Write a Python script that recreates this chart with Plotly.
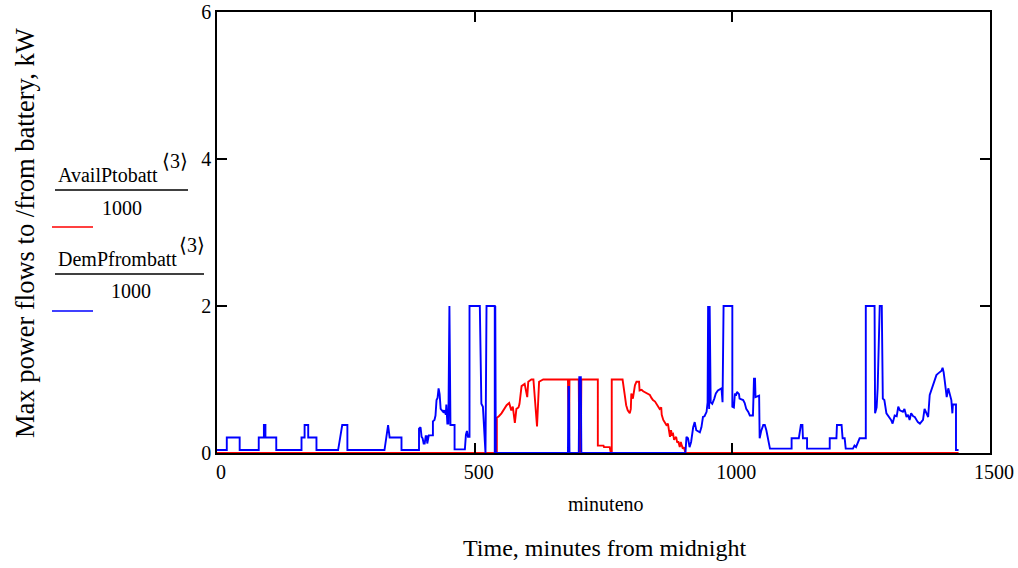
import plotly.graph_objects as go

# Power available to charge the battery (AvailPtobatt/1000), kW, by minute of day
avail_min = [0, 543, 543, 547, 552, 557, 562, 567, 571, 574, 578, 581, 585, 587, 589, 591,
             597, 602, 604, 610, 614, 621, 625, 633, 681, 682, 683, 684, 702, 703, 706, 707,
             739, 739, 750, 751, 762, 764, 766, 766, 787, 791, 794, 797, 801, 803, 804, 807,
             811, 814, 819, 820, 824, 827, 832, 835, 840, 843, 846, 850, 853, 856, 859, 862,
             863, 866, 869, 872, 875, 877, 879, 881, 883, 885, 887, 889, 891, 893, 895, 898,
             900, 902, 904, 906, 908, 909, 1439]
avail_kw = [0, 0, 0.48, 0.5, 0.54, 0.6, 0.65, 0.68, 0.58, 0.63, 0.41, 0.6, 0.62, 0.67, 0.76, 0.91,
            0.94, 0.76, 0.97, 1.0, 1.0, 0.36, 0.97, 1.0, 1.0, 0, 0, 1.0, 1.0, 0, 0, 1.0,
            1.0, 0.1, 0.1, 0.08, 0.08, 0.01, 0.01, 1.0, 1.0, 0.8, 0.65, 0.58, 0.54, 0.6, 0.81, 0.74,
            0.92, 0.97, 0.97, 0.85, 0.86, 0.84, 0.82, 0.8, 0.79, 0.75, 0.72, 0.7, 0.67, 0.64, 0.6, 0.62,
            0.52, 0.45, 0.42, 0.38, 0.4, 0.3, 0.22, 0.31, 0.25, 0.26, 0.18, 0.2, 0.22, 0.14, 0.16, 0.08,
            0.15, 0.1, 0.06, 0.08, 0.01, 0, 0]

# Power demanded from the battery (DemPfrombatt/1000), kW, by minute of day
dem_min = [0, 19, 19, 44, 44, 81, 81, 91, 91, 94, 94, 115, 115, 164, 164, 170, 170, 177, 177, 193,
           193, 235, 239, 243, 253, 253, 325, 328, 332, 335, 358, 358, 392, 392, 395, 397, 399, 401,
           403, 405, 407, 408, 411, 419, 419, 422, 424, 426, 428, 430, 432, 434, 436, 439, 441, 444,
           445, 447, 449, 451, 453, 461, 461, 481, 483, 485, 487, 490, 490, 510, 513, 516, 521, 523,
           539, 539, 540, 541, 681, 682, 683, 684, 702, 703, 706, 707, 909, 911, 914, 917, 920, 924,
           927, 930, 933, 937, 940, 943, 946, 950, 952, 953, 955, 956, 958, 961, 965, 968, 972, 979,
           981, 983, 1000, 1000, 1003, 1005, 1007, 1009, 1013, 1014, 1021, 1024, 1027, 1031, 1034,
           1040, 1042, 1044, 1045, 1052, 1053, 1056, 1060, 1063, 1066, 1069, 1073, 1115, 1115, 1129,
           1133, 1136, 1137, 1145, 1145, 1189, 1189, 1202, 1203, 1212, 1214, 1218, 1220, 1234, 1237,
           1240, 1244, 1247, 1259, 1259, 1276, 1277, 1280, 1282, 1286, 1290, 1292, 1295, 1299, 1305,
           1308, 1311, 1315, 1319, 1322, 1325, 1331, 1334, 1338, 1341, 1344, 1347, 1351, 1354, 1357,
           1360, 1364, 1367, 1370, 1373, 1377, 1380, 1383, 1386, 1390, 1393, 1396, 1399, 1403, 1406,
           1408, 1410, 1412, 1416, 1419, 1422, 1425, 1427, 1428, 1434, 1434, 1439]
dem_kw = [0.04, 0.04, 0.21, 0.21, 0.04, 0.04, 0.21, 0.21, 0.38, 0.38, 0.21, 0.21, 0.04, 0.04, 0.21,
          0.21, 0.38, 0.38, 0.21, 0.21, 0.04, 0.04, 0.21, 0.38, 0.38, 0.04, 0.04, 0.21, 0.38, 0.21,
          0.21, 0.04, 0.04, 0.33, 0.35, 0.22, 0.2, 0.13, 0.13, 0.23, 0.23, 0.13, 0.24, 0.24, 0.43,
          0.45, 0.51, 0.72, 0.75, 0.88, 0.8, 0.6, 0.58, 0.56, 0.58, 0.52, 0.66, 0.4, 0.4, 2.0, 0.38,
          0.38, 0.05, 0.05, 0.25, 0.3, 0.22, 0.22, 2.0, 2.0, 0.67, 0.63, 0, 2.0, 2.0, 0, 2.0, 0, 0,
          0.9, 0.9, 0, 0, 1.03, 1.03, 0, 0, 0.22, 0.2, 0.08, 0.15, 0.35, 0.42, 0.31, 0.3, 0.28, 0.35,
          0.49, 0.5, 0.56, 0.69, 2.0, 0.6, 2.0, 0.69, 0.67, 0.74, 0.81, 0.85, 0.88, 0.69, 2.0, 2.0,
          0.63, 0.62, 0.81, 0.78, 0.83, 0.8, 0.74, 0.72, 0.68, 0.6, 0.56, 0.51, 0.51, 1.01, 1.01,
          0.76, 0.78, 0.2, 0.3, 0.38, 0.38, 0.31, 0.22, 0.06, 0.06, 0.2, 0.2, 0.38, 0.38, 0.2, 0.2,
          0.06, 0.06, 0.2, 0.2, 0.38, 0.38, 0.2, 0.2, 0.06, 0.06, 0.1, 0.08, 0.15, 0.2, 0.2, 2.0,
          2.0, 0.54, 0.62, 0.88, 2.0, 2.0, 0.74, 0.72, 0.54, 0.49, 0.45, 0.4, 0.51, 0.5, 0.63, 0.58,
          0.56, 0.6, 0.49, 0.52, 0.45, 0.54, 0.5, 0.49, 0.45, 0.42, 0.4, 0.43, 0.45, 0.6, 0.52, 0.49,
          0.79, 0.85, 0.94, 1.0, 1.06, 1.08, 1.1, 1.12, 1.16, 1.1, 0.99, 0.76, 0.88, 0.79, 0.72,
          0.54, 0.66, 0.66, 0.04, 0.04]

x_ticks = [0, 500, 1000, 1500]
y_ticks = [0, 2, 4, 6]

SERIF = "Liberation Serif, Times New Roman, serif"
W, H = 1018, 568
ML, MR, MT, MB = 217, 28, 12, 115
PW, PH = W - ML - MR, H - MT - MB


def px(x):
    """Page pixel column -> paper x."""
    return (x - ML) / PW


def py(y):
    """Page pixel row -> paper y."""
    return (H - MB - y) / PH


fig = go.Figure()
fig.add_trace(go.Scatter(x=avail_min, y=avail_kw, mode="lines",
                         line=dict(color="#ff0000", width=1.9), showlegend=False))
fig.add_trace(go.Scatter(x=dem_min, y=dem_kw, mode="lines",
                         line=dict(color="#0000ff", width=1.9), showlegend=False))

axis_common = dict(showline=True, linecolor="black", linewidth=1.5, mirror="ticks",
                   ticks="inside", ticklen=10, tickwidth=1.5, tickcolor="black",
                   showgrid=False, zeroline=False, automargin=False,
                   tickfont=dict(family=SERIF, size=20, color="black"))

fig.update_xaxes(range=[0, 1500], tickvals=x_ticks, ticktext=[str(t) for t in x_ticks],
                 ticklabelshift=4, **axis_common)
fig.update_yaxes(range=[0, 6], tickvals=y_ticks, ticktext=[str(t) for t in y_ticks],
                 **axis_common)

ann = []
shapes = []


def text(s, x, y, size=20, xanchor="center", angle=0):
    ann.append(dict(text=s, x=px(x), y=py(y), xref="paper", yref="paper",
                    xanchor=xanchor, yanchor="middle", showarrow=False, textangle=angle,
                    font=dict(family=SERIF, size=size, color="black")))


def hline(x0, x1, y, color="black", width=1.5):
    shapes.append(dict(type="line", xref="paper", yref="paper",
                       x0=px(x0), x1=px(x1), y0=py(y), y1=py(y),
                       line=dict(color=color, width=width)))


# axis titles
text("minuteno", 606, 504, size=20)
text("Time, minutes from midnight", 604, 548, size=24)
text("Max power flows to /from battery, kW", 25, 233, size=26.5, angle=-90)

# legend entries written as fractions with a column superscript
text("AvailPtobatt", 56, 175, xanchor="left")
text("\u27e83\u27e9", 160, 161, size=20, xanchor="left")
hline(55, 188, 190)
text("1000", 122, 208)
hline(52, 93, 227, color="#ff0000")

text("DemPfrombatt", 56, 259, xanchor="left")
text("\u27e83\u27e9", 177, 245, size=20, xanchor="left")
hline(55, 204, 274)
text("1000", 131, 291)
hline(52, 93, 311, color="#0000ff")

fig.update_layout(width=W, height=H, margin=dict(l=ML, r=MR, t=MT, b=MB),
                  paper_bgcolor="white", plot_bgcolor="white",
                  annotations=ann, shapes=shapes, showlegend=False)

fig.write_html("out.html")
